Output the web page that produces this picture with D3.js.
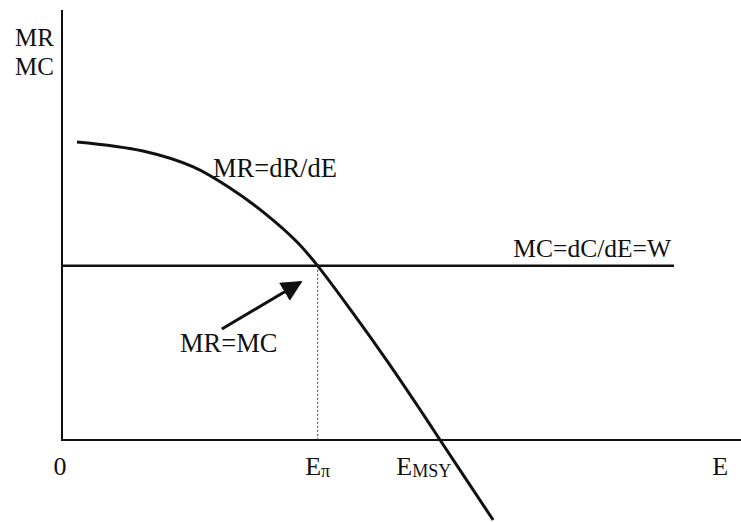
<!DOCTYPE html>
<html>
<head>
<meta charset="utf-8">
<script src="https://cdn.jsdelivr.net/npm/d3@7"></script>
<style>
  body { margin: 0; background: #fff; }
</style>
</head>
<body>
<svg id="chart" width="741" height="522"></svg>
<script>
// marginal revenue curve (effort E, MR)
var effort = [0.22, 1.19, 1.93, 2.47, 2.96, 3.46, 3.76, 4.28, 4.78, 5.26, 5.56, 6.34];
var marginalRevenue = [6.93, 6.72, 6.35, 5.86, 5.30, 4.60, 4.05, 2.95, 1.84, 0.72, 0.0, -1.86];

// marginal cost is flat at W
var mcValue = 4.05;
var mcRange = [0, 9.0];
var ePi = 3.76;

var tickLabels = ["0", "E", "E", "E"];
var tickSubs = ["", "π", "MSY", ""];
var tickPos = [-0.03, 3.76, 5.32, 9.68];

var serif = "'Liberation Serif', 'Times New Roman', serif";

function draw(chart) {
    var svg = d3.select("#" + chart),
        g = svg.append("g");

    // x: 0..10 -> 62..742, y: 0..10 -> 440..10
    var x = d3.scaleLinear().domain([0, 10]).range([62, 742]);
    var y = d3.scaleLinear().domain([0, 10]).range([440, 10]);

    var line = d3.line()
        .x(d => x(d[0]))
        .y(d => y(d[1]));

    // axes
    g.append("path")
        .attr("d", line([[0, 10], [0, 0], [10, 0]]))
        .attr("fill", "none")
        .attr("stroke", "#111")
        .attr("stroke-width", 2);

    // dotted drop line at E_pi
    g.append("path")
        .attr("d", line([[ePi, mcValue], [ePi, 0]]))
        .attr("stroke", "#444")
        .attr("stroke-width", 1)
        .attr("stroke-dasharray", "2,2");

    // MC line
    g.append("path")
        .attr("d", line([[mcRange[0], mcValue], [mcRange[1], mcValue]]))
        .attr("stroke", "#111")
        .attr("stroke-width", 2.5);

    // MR curve
    var mrData = effort.map((e, i) => [e, marginalRevenue[i]]);
    g.append("path")
        .attr("d", d3.line().x(d => x(d[0])).y(d => y(d[1])).curve(d3.curveCatmullRom)(mrData))
        .attr("fill", "none")
        .attr("stroke", "#111")
        .attr("stroke-width", 3);

    // arrow
    svg.append("defs").append("marker")
        .attr("id", "head")
        .attr("viewBox", "0 0 10 10")
        .attr("refX", 9).attr("refY", 5)
        .attr("markerWidth", 7).attr("markerHeight", 7)
        .attr("markerUnits", "strokeWidth")
        .attr("orient", "auto")
        .append("path")
        .attr("d", "M0,0 L10,5 L0,10 z")
        .attr("fill", "#111");

    g.append("line")
        .attr("x1", x(2.35)).attr("y1", y(2.58))
        .attr("x2", x(3.51)).attr("y2", y(3.67))
        .attr("stroke", "#111")
        .attr("stroke-width", 3)
        .attr("marker-end", "url(#head)");

    // labels
    function label(tx, ty, str, anchor, size) {
        return g.append("text")
            .attr("x", tx).attr("y", ty)
            .attr("text-anchor", anchor || "start")
            .attr("font-family", serif)
            .attr("font-size", size || 26)
            .attr("fill", "#111")
            .text(str);
    }
    label(54, 46, "MR", "end", 25);
    label(54, 75, "MC", "end", 25);
    label(213, 177, "MR=dR/dE", "start", 26.5);
    label(671, 257, "MC=dC/dE=W", "end", 25.5);
    label(180, 352, "MR=MC", "start", 26.5);

    // tick labels under the E axis
    var ticks = g.selectAll(".tick-label")
        .data(tickLabels)
        .enter()
        .append("text")
        .attr("class", "tick-label")
        .attr("x", (d, i) => x(tickPos[i]))
        .attr("y", 475)
        .attr("text-anchor", "middle")
        .attr("font-family", serif)
        .attr("font-size", 26)
        .attr("fill", "#111");

    ticks.append("tspan").text(d => d);
    ticks.append("tspan")
        .attr("dy", 2)
        .attr("font-size", 18)
        .text((d, i) => tickSubs[i]);
}

draw("chart");
</script>
</body>
</html>
